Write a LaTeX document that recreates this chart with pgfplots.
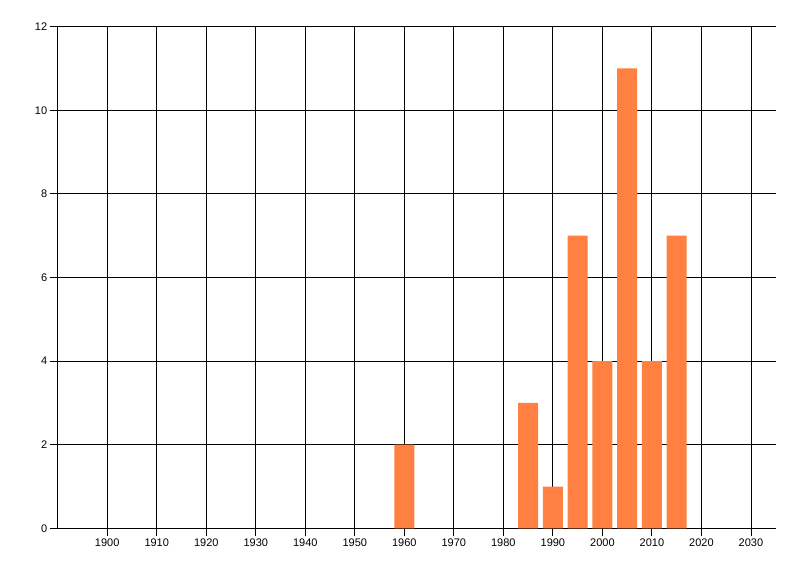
\documentclass[border=0pt]{standalone}
\usepackage{fontspec}
\setmainfont{Liberation Sans}
\usepackage{pgfplots}
\pgfplotsset{compat=1.18}
\definecolor{barc}{RGB}{255,128,64}
\begin{document}
\begin{tikzpicture}[x=1pt,y=1pt]
\path[use as bounding box] (-57.7,-47.7) rectangle (742.3,528.3);
\begin{axis}[
  at={(0,0)}, anchor=south west,
  scale only axis, width=718pt, height=501.6pt,
  xmin=1890, xmax=2035, ymin=0, ymax=12,
  xtick={1900,1910,...,2030}, ytick={0,2,...,12},
  axis lines*=left,
  axis line style={black, line width=0.9pt},
  grid=major, major grid style={black, line width=0.9pt},
  tick align=outside, major tick length=8pt,
  tick style={black, line width=0.9pt},
  ticklabel style={font=\fontsize{11}{13}\selectfont, text=black},
  /pgf/number format/assume math mode=true,
  x tick label style={/pgf/number format/1000 sep={}, yshift=1pt},
  y tick label style={xshift=1pt},
  ybar, bar width=20pt, bar shift=0pt,
  clip=false,
]
\addplot[fill=barc, draw=none] coordinates {
  (1960,2) (1985,3) (1990,1) (1995,7) (2000,4) (2005,11) (2010,4) (2015,7)
};
\end{axis}
\end{tikzpicture}
\end{document}
